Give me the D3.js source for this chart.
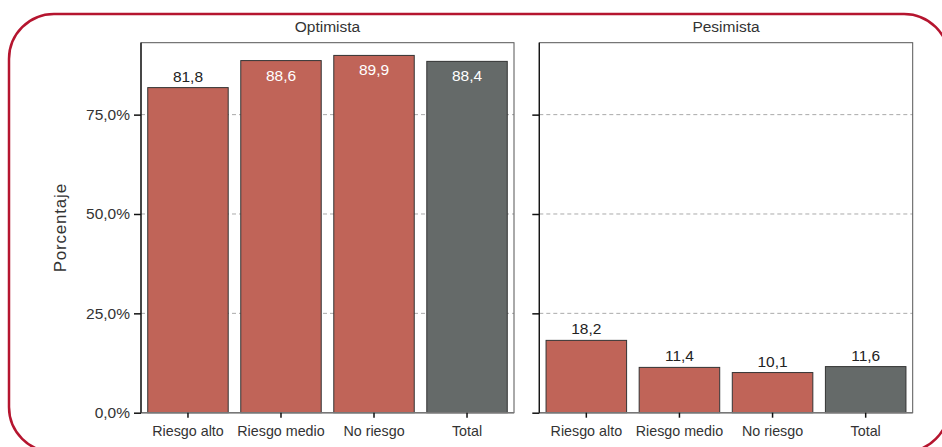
<!DOCTYPE html>
<html><head><meta charset="utf-8">
<script src="https://cdn.jsdelivr.net/npm/d3@7/dist/d3.min.js"></script>
<style>body{margin:0;background:#fff}svg{display:block;font-family:"Liberation Sans",Arial,sans-serif}</style>
</head><body>
<script>
const categories = ["Riesgo alto","Riesgo medio","No riesgo","Total"];
const panels = ["Optimista","Pesimista"];
const optimista = [81.8, 88.6, 89.9, 88.4];
const pesimista = [18.2, 11.4, 10.1, 11.6];
const yTicks = [0, 25, 50, 75];
const valuesByPanel = [optimista, pesimista];

const W = 942, H = 447;
const svg = d3.select("body").append("svg").attr("width", W).attr("height", H);

svg.append("rect").attr("x", 9).attr("y", 14).attr("width", 940).attr("height", 438)
  .attr("rx", 45).attr("ry", 45).attr("fill", "none").attr("stroke", "#b5152f").attr("stroke-width", 2.5);

const pTop = 42.7, pBottom = 412.7;
const panelX = [[141, 514], [539.3, 912.7]];
const y = d3.scaleLinear().domain([0, 93.1]).range([pBottom, pTop]);
const fmt = v => v.toFixed(1).replace(".", ",");

panels.forEach((name, pi) => {
  const [x0, x1] = panelX[pi];
  const x = d3.scaleBand().domain(categories).range([x0, x1]).paddingInner(0.135).paddingOuter(0.0725);
  const g = svg.append("g");
  g.selectAll("line.grid").data(yTicks.filter(t => t > 0)).join("line")
    .attr("x1", x0).attr("x2", x1).attr("y1", d => y(d)).attr("y2", d => y(d))
    .attr("stroke", "#aaa").attr("stroke-width", 1).attr("stroke-dasharray", "4,3");
  const vals = valuesByPanel[pi];
  g.selectAll("rect.bar").data(categories).join("rect")
    .attr("x", d => x(d)).attr("width", x.bandwidth())
    .attr("y", (d, i) => y(vals[i])).attr("height", (d, i) => y(0) - y(vals[i]))
    .attr("fill", d => d === "Total" ? "#656a69" : "#c06458")
    .attr("stroke", "#333").attr("stroke-width", 1);
  g.selectAll("text.lab").data(categories).join("text")
    .attr("x", d => x(d) + x.bandwidth() / 2)
    .attr("y", (d, i) => vals[i] > 85 ? y(vals[i]) + 20 : y(vals[i]) - 6)
    .attr("text-anchor", "middle").attr("font-size", 15.5)
    .attr("fill", (d, i) => vals[i] > 85 ? "#fff" : "#222")
    .text((d, i) => fmt(vals[i]));
  g.append("rect").attr("x", x0).attr("y", pTop).attr("width", x1 - x0).attr("height", pBottom - pTop)
    .attr("fill", "none").attr("stroke", "#555").attr("stroke-width", 1);
  g.append("line").attr("x1", x0).attr("x2", x1).attr("y1", pBottom).attr("y2", pBottom)
    .attr("stroke", "#777").attr("stroke-width", 1.5);
  const ya = g.append("g").attr("transform", `translate(${x0},0)`)
    .call(d3.axisLeft(y).tickValues(yTicks).tickSize(7).tickPadding(4)
      .tickFormat(pi === 0 ? (d => fmt(d) + "%") : (() => "")));
  ya.select(".domain").attr("d", `M0,${pTop}V${pBottom}`).attr("stroke", "#111").attr("stroke-width", 1.3);
  ya.selectAll(".tick line").attr("stroke", "#111").attr("stroke-width", 1.5);
  ya.selectAll(".tick text").attr("font-size", 15.5).attr("fill", "#333").attr("font-family", null);
  const xa = g.append("g").attr("transform", `translate(0,${pBottom})`)
    .call(d3.axisBottom(x).tickSize(5).tickPadding(8));
  xa.select(".domain").remove();
  xa.selectAll(".tick line").attr("stroke", "#111").attr("stroke-width", 1.5);
  xa.selectAll(".tick text").attr("font-size", 14.3).attr("fill", "#333").attr("font-family", null);
  svg.append("text").attr("x", (x0 + x1) / 2).attr("y", 32).attr("text-anchor", "middle")
    .attr("font-size", 15.5).attr("fill", "#333").text(name);
});

svg.append("text").attr("transform", `translate(66,${(pTop + pBottom) / 2}) rotate(-90)`)
  .attr("text-anchor", "middle").attr("font-size", 17).attr("letter-spacing", 0.8)
  .attr("fill", "#333").text("Porcentaje");
</script>
</body></html>
